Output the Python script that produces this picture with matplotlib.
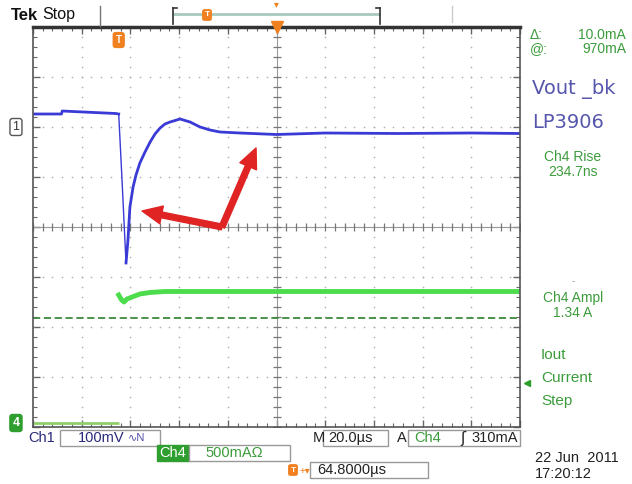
import numpy as np
import matplotlib
matplotlib.use("Agg")
import matplotlib.pyplot as plt
from matplotlib.lines import Line2D
from matplotlib.patches import Rectangle
import matplotlib.transforms as mtransforms

plt.rcParams['font.family'] = ['Liberation Sans', 'DejaVu Sans']

# time in us relative to screen centre (20 us/div), levels in divisions
t_ch1 = [-100, -88.3, -88.0, -75, -66, -64.8, -63.5, -61.8, -61.0, -60.2, -58.9, -57.7,
         -56.1, -54.0, -51.9, -49.9, -47.8, -45.8, -43.7, -39.6, -35.5, -31.4, -27.3,
         -23.2, -15, 0, 20, 50, 80, 100]
v_ch1 = [2.26, 2.26, 2.32, 2.29, 2.27, 2.26, 1.00, -0.72, -0.26, 0.40, 0.80, 1.04,
         1.28, 1.50, 1.70, 1.86, 1.98, 2.06, 2.10, 2.16, 2.10, 2.00, 1.94,
         1.90, 1.88, 1.85, 1.88, 1.87, 1.88, 1.87]
edge_start, edge_end = 5, 7   # indices of the fast falling edge

t_ch4_base = [-100, -64.8]
v_ch4_base = [-3.92, -3.92]
t_ch4 = [-64.8, -63.6, -62.6, -61.4, -59.3, -56.1, -52.0, -45.8, 0, 100]
v_ch4 = [-1.36, -1.46, -1.50, -1.44, -1.40, -1.34, -1.31, -1.29, -1.29, -1.29]

ref_level = -1.82
trigger_time = -64.8
ch1_ground = 2.0
ch4_ground = -3.92
trig_level = -3.12

W, H = 632, 484
fig = plt.figure(figsize=(W / 100, H / 100), dpi=100)
fig.patch.set_facecolor('white')


def fx(x):
    return x / W


def fy(y):
    return 1 - y / H


ax = fig.add_axes([fx(33), fy(427), 487 / W, 400 / H])
ax.set_xlim(-100, 100)
ax.set_ylim(-4, 4)
ax.set_xticks(np.arange(-100, 101, 20))
ax.set_xticks(np.arange(-100, 101, 4), minor=True)
ax.set_yticks(np.arange(-4, 5, 1))
ax.set_yticks(np.arange(-4, 4.01, 0.2), minor=True)
ax.tick_params(which='both', direction='in', top=True, right=True,
               labelbottom=False, labelleft=False, color='#666666')
ax.tick_params(which='major', length=5, width=1)
ax.tick_params(which='minor', length=3, width=0.8)
for s in ax.spines.values():
    s.set_color('#555555')
    s.set_linewidth(1.2)
ax.spines['top'].set_linewidth(2.5)
ax.spines['top'].set_color('#333333')

# graticule
minor_x = np.arange(-100, 101, 4)
minor_y = np.arange(-4, 4.01, 0.2)
for gx in [-80, -60, -40, -20, 20, 40, 60, 80]:
    ax.plot([gx] * len(minor_y), minor_y, ls='none', marker='o', ms=1.2,
            color='#b0b0b0', mec='none')
for gy in [-3, -2, -1, 1, 2, 3]:
    ax.plot(minor_x, [gy] * len(minor_x), ls='none', marker='o', ms=1.2,
            color='#b0b0b0', mec='none')
ax.axhline(0, color='#999999', lw=0.8)
ax.axvline(0, color='#999999', lw=0.8)
ax.plot(minor_x, [0] * len(minor_x), ls='none', marker='|', ms=6, color='#777777', mew=0.9)
ax.plot([0] * len(minor_y), minor_y, ls='none', marker='_', ms=6, color='#777777', mew=0.9)

# traces
ax.axhline(ref_level, color='#3d8a3d', lw=1.3, ls=(0, (4, 2)))
ax.plot(t_ch4_base, v_ch4_base, color='#8fcf6a', lw=2, solid_capstyle='butt')
ax.plot(t_ch4, v_ch4, color='#4cdc4c', lw=3.5, solid_joinstyle='round')
blue = '#3a3ad6'
ax.plot(t_ch1[:edge_start + 1], v_ch1[:edge_start + 1], color=blue, lw=2.0)
ax.plot(t_ch1[edge_start:edge_end + 1], v_ch1[edge_start:edge_end + 1], color=blue, lw=1.0)
ax.plot(t_ch1[edge_end:], v_ch1[edge_end:], color=blue, lw=2.0, solid_joinstyle='round')

# red arrows
arrow = dict(arrowstyle='simple,head_length=1.1,head_width=1.0,tail_width=0.32',
             color='#e02424', mutation_scale=13, shrinkA=0, shrinkB=0)
ax.annotate('', xy=(-55.2, 0.32), xytext=(-22.4, 0.0), arrowprops=arrow)
ax.annotate('', xy=(-8.4, 1.58), xytext=(-22.4, 0.0), arrowprops=arrow)

# trigger markers
ax.text(trigger_time, 3.74, 'T', color='white', fontsize=7, fontweight='bold',
        ha='center', va='center',
        bbox=dict(boxstyle='round,pad=0.25', fc='#f08020', ec='#f08020'))
ax.plot([0], [4], marker='v', ms=8, color='#f08020', clip_on=False, zorder=5)

# channel markers
blend = mtransforms.blended_transform_factory(ax.transAxes, ax.transData)
ax.text(-0.035, ch1_ground, '1', transform=blend, ha='center', va='center', fontsize=9,
        color='#333333', bbox=dict(boxstyle='round,pad=0.2', fc='white', ec='#555555', lw=1))
ax.text(-0.035, ch4_ground, '4', transform=blend, ha='center', va='center', fontsize=9,
        fontweight='bold', color='white',
        bbox=dict(boxstyle='round,pad=0.2', fc='#2e9e2e', ec='#2e9e2e'))
ax.plot([1.015], [trig_level], transform=blend, marker='<', ms=5, color='#2e9e2e', clip_on=False)

# top header
fig.text(fx(11), fy(15), 'Tek', fontsize=12, fontweight='bold', va='center', color='#111111')
fig.text(fx(42), fy(15), 'Stop', fontsize=11.5, va='center', color='#111111')
fig.add_artist(Line2D([fx(100), fx(100)], [fy(6), fy(26)], color='#777777', lw=1))
fig.add_artist(Line2D([fx(452), fx(452)], [fy(6), fy(22)], color='#cccccc', lw=1))
fig.add_artist(Line2D([fx(174), fx(379)], [fy(14), fy(14)], color='#a9c9be', lw=2))
for bx, d in [(173, 4), (380, -4)]:
    fig.add_artist(Line2D([fx(bx), fx(bx)], [fy(8), fy(24)], color='#333333', lw=1.2))
    fig.add_artist(Line2D([fx(bx), fx(bx + d)], [fy(8), fy(8)], color='#333333', lw=1.2))
fig.text(fx(207), fy(15), 'T', color='white', fontsize=6, fontweight='bold', ha='center',
         va='center', bbox=dict(boxstyle='round,pad=0.2', fc='#f08020', ec='#f08020'))
fig.text(fx(276), fy(4), '\u25be', color='#f08020', fontsize=7, ha='center', va='center')

# right panel
green = '#3c9c3c'
slate = '#5656ac'
fig.text(fx(530), fy(35), '\u0394:', color=green, fontsize=10, va='center')
fig.text(fx(626), fy(35), '10.0mA', color=green, fontsize=10, va='center', ha='right')
fig.text(fx(530), fy(49), '@:', color=green, fontsize=10, va='center')
fig.text(fx(626), fy(49), '970mA', color=green, fontsize=10, va='center', ha='right')
fig.text(fx(532), fy(89), 'Vout _bk', color=slate, fontsize=14, va='center',
         family=['DejaVu Sans'])
fig.text(fx(532), fy(123), 'LP3906', color=slate, fontsize=14, va='center',
         family=['DejaVu Sans'])
fig.text(fx(573), fy(157), 'Ch4 Rise', color=green, fontsize=10, va='center', ha='center')
fig.text(fx(573), fy(172), '234.7ns', color=green, fontsize=10, va='center', ha='center')
fig.text(fx(573), fy(281), '-', color='#999999', fontsize=7, va='center', ha='center')
fig.text(fx(573), fy(298), 'Ch4 Ampl', color=green, fontsize=10, va='center', ha='center')
fig.text(fx(573), fy(313), '1.34 A', color=green, fontsize=10, va='center', ha='center')
fig.text(fx(541), fy(355), 'Iout', color=green, fontsize=11, va='center')
fig.text(fx(541), fy(378), 'Current', color=green, fontsize=11, va='center')
fig.text(fx(541), fy(401), 'Step', color=green, fontsize=11, va='center')


def box(x0, y0, x1, y1, fc='white', ec='#999999'):
    fig.add_artist(Rectangle((fx(x0), fy(y1)), (x1 - x0) / W, (y1 - y0) / H,
                             transform=fig.transFigure, fc=fc, ec=ec, lw=1))


# bottom readouts
box(60, 430, 160, 446)
fig.text(fx(28), fy(438), 'Ch1', color='#2a2a7a', fontsize=10.5, va='center')
fig.text(fx(78), fy(438), '100mV', color='#2a2a7a', fontsize=10.5, va='center')
fig.text(fx(128), fy(438), '\u223fN', color='#4a4aaa', fontsize=8, va='center')
box(323, 430, 388, 446)
fig.text(fx(313), fy(438), 'M', color='#222222', fontsize=10.5, va='center')
fig.text(fx(328), fy(438), '20.0\u00b5s', color='#222222', fontsize=10.5, va='center')
fig.text(fx(397), fy(438), 'A', color='#222222', fontsize=10.5, va='center')
box(408, 430, 520, 446)
fig.text(fx(414), fy(438), 'Ch4', color=green, fontsize=10.5, va='center')
fig.text(fx(460), fy(438), '\u0283', color='#222222', fontsize=11, va='center',
         family=['DejaVu Sans'])
fig.text(fx(518), fy(438), '310mA', color='#222222', fontsize=10.5, va='center', ha='right')
box(157, 445, 189, 461, fc='#2e9e2e', ec='#2e9e2e')
fig.text(fx(173), fy(453), 'Ch4', color='white', fontsize=10.5, va='center', ha='center')
box(189, 445, 290, 461)
fig.text(fx(205), fy(453), '500mA\u03a9', color=green, fontsize=10.5, va='center')
fig.text(fx(293), fy(470), 'T', color='white', fontsize=6, fontweight='bold', ha='center',
         va='center', bbox=dict(boxstyle='round,pad=0.2', fc='#f08020', ec='#f08020'))
fig.text(fx(300), fy(470), '+\u25be', color='#f08020', fontsize=7, va='center')
box(310, 462, 428, 478)
fig.text(fx(317), fy(470), '64.8000\u00b5s', color='#222222', fontsize=10.5, va='center')
fig.text(fx(535), fy(458), '22 Jun  2011', color='#222222', fontsize=10.5, va='center')
fig.text(fx(535), fy(474), '17:20:12', color='#222222', fontsize=10.5, va='center')

fig.savefig('out.png', dpi=100)
